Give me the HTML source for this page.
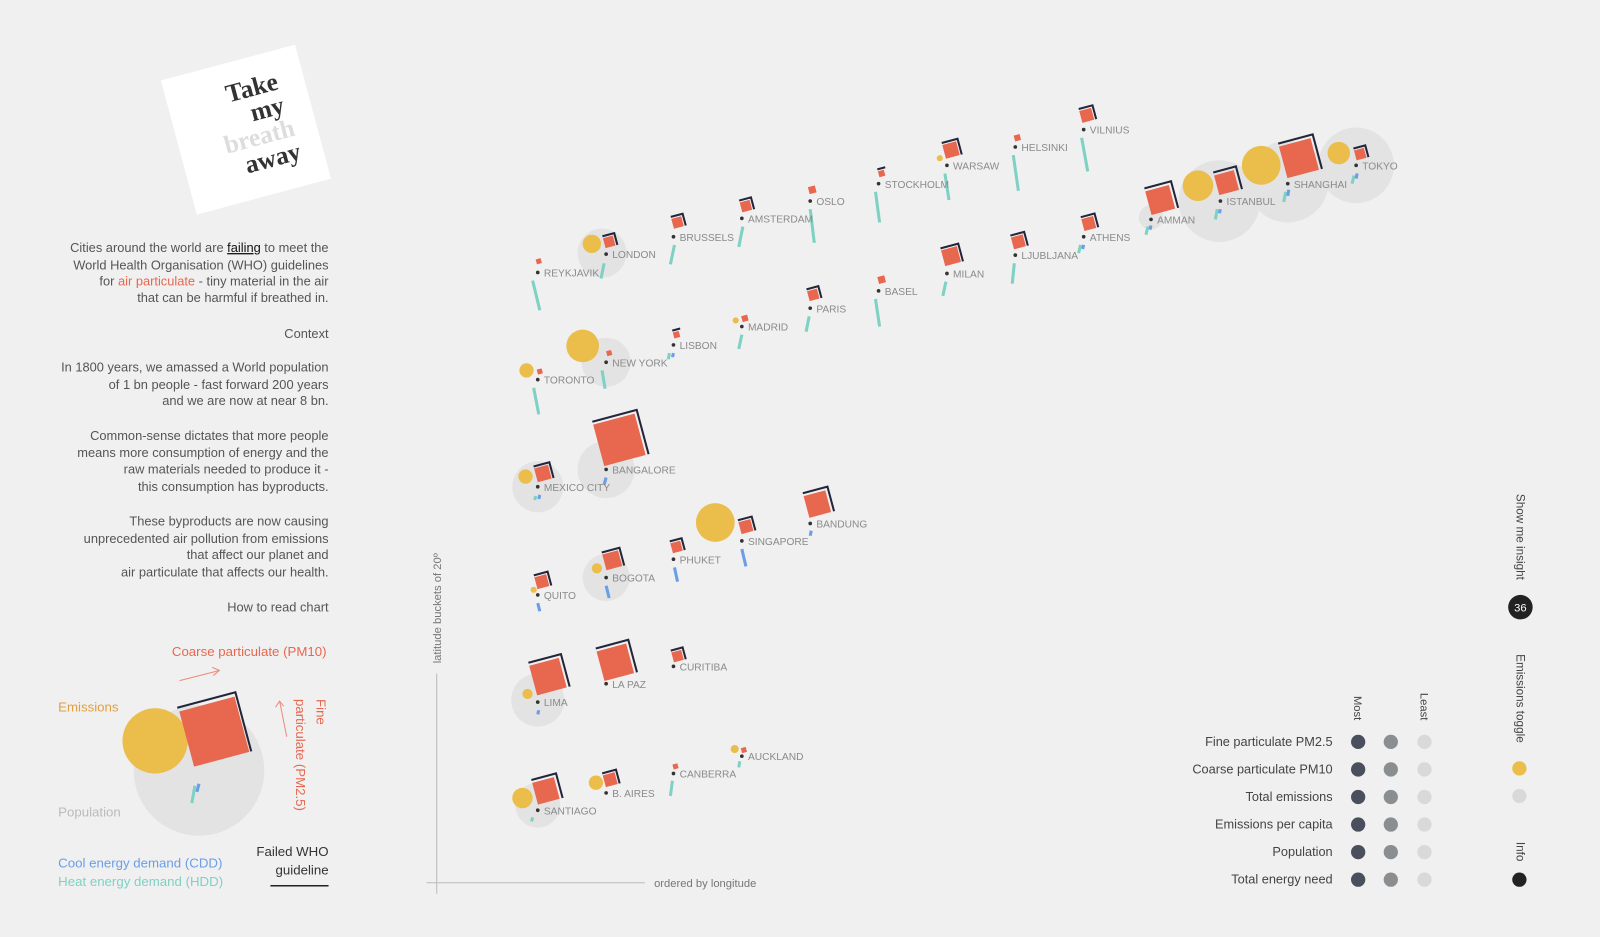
<!DOCTYPE html>
<html><head><meta charset="utf-8"><style>
html,body{margin:0;padding:0;background:#f0f0f0;}
svg{display:block;font-family:"Liberation Sans",sans-serif;}
.lb{font-size:10px;fill:#8a8a8a;}
.p{font-size:12.6px;fill:#555;text-anchor:end;}
.sq{fill:#e8674f;}
.fr{fill:none;stroke:#23263a;stroke-width:2;}
.pop{fill:#e3e3e3;}
.em{fill:#ebbd4a;}
.tl{stroke:#7fd1c4;stroke-width:3;}
.bl{stroke:#6a9ee8;stroke-width:3;}
.dt{fill:#333;}
.lg{font-size:12.5px;fill:#444;text-anchor:end;}
</style></head><body>
<svg width="1600" height="937" viewBox="0 0 1568 918.2" preserveAspectRatio="none">
<rect width="1568" height="919" fill="#f0f0f0"/>
<!-- title card -->
<g transform="translate(241,127) rotate(-15)">
<rect x="-68" y="-68" width="136" height="136" fill="#fff"/>
<g font-family="Liberation Serif,serif" font-weight="bold" font-size="25" text-anchor="end">
<text x="42" y="-30" fill="#333">Take</text>
<text x="42" y="-6" fill="#333">my</text>
<text x="46" y="18" fill="#ddd">breath</text>
<text x="46" y="42" fill="#333">away</text>
</g></g>
<!-- intro text -->
<text class="p" x="322" y="247">Cities around the world are <tspan fill="#111" text-decoration="underline">failing</tspan> to meet the</text>
<text class="p" x="322" y="264">World Health Organisation (WHO) guidelines</text>
<text class="p" x="322" y="280">for <tspan fill="#e8674f">air particulate</tspan> - tiny material in the air</text>
<text class="p" x="322" y="296">that can be harmful if breathed in.</text>
<text class="p" x="322" y="331" fill="#222">Context</text>
<text class="p" x="322" y="364">In 1800 years, we amassed a World population</text>
<text class="p" x="322" y="381">of 1 bn people - fast forward 200 years</text>
<text class="p" x="322" y="397">and we are now at near 8 bn.</text>
<text class="p" x="322" y="431">Common-sense dictates that more people</text>
<text class="p" x="322" y="448">means more consumption of energy and the</text>
<text class="p" x="322" y="464">raw materials needed to produce it -</text>
<text class="p" x="322" y="481">this consumption has byproducts.</text>
<text class="p" x="322" y="515">These byproducts are now causing</text>
<text class="p" x="322" y="532">unprecedented air pollution from emissions</text>
<text class="p" x="322" y="548">that affect our planet and</text>
<text class="p" x="322" y="565">air particulate that affects our health.</text>
<text class="p" x="322" y="599" fill="#222">How to read chart</text>
<!-- how to read legend -->
<text x="320" y="643" font-size="13" fill="#e8674f" text-anchor="end">Coarse particulate (PM10)</text>
<path d="M176 667 L215 657 M208 654 L215 657 L209 662" stroke="#ee8a7a" fill="none" stroke-width="1"/>
<text x="57" y="697" font-size="13" fill="#e0a040">Emissions</text>
<circle class="pop" cx="195" cy="755" r="64"/>
<circle class="em" cx="152" cy="726" r="32"/>
<g transform="translate(210,717) rotate(-15)"><rect class="sq" x="-28" y="-28" width="56" height="56"/><path class="fr" d="M-29 -32 H30 V28"/></g>
<line class="tl" x1="191" y1="770" x2="188" y2="787"/><line class="bl" x1="195" y1="768" x2="193" y2="776"/>
<text x="57" y="800" font-size="13" fill="#bbb">Population</text>
<path d="M281 722 L274 687 M270 693 L274 687 L278 692" stroke="#ee8a7a" fill="none" stroke-width="1"/>
<text transform="translate(290,685) rotate(90)" font-size="13" fill="#e8674f">particulate (PM2.5)</text>
<text transform="translate(310,685) rotate(90)" font-size="13" fill="#e8674f">Fine</text>
<text x="57" y="850" font-size="13" fill="#6a9ee8">Cool energy demand (CDD)</text>
<text x="57" y="868" font-size="13" fill="#7fd1c4">Heat energy demand (HDD)</text>
<text x="322" y="839" font-size="13" fill="#333" text-anchor="end">Failed WHO</text>
<text x="322" y="857" font-size="13" fill="#333" text-anchor="end">guideline</text>
<line x1="265" y1="868" x2="322" y2="868" stroke="#222" stroke-width="1.5"/>
<!-- axes -->
<line x1="428" y1="660" x2="428" y2="876" stroke="#bbb"/>
<line x1="418" y1="865" x2="632" y2="865" stroke="#bbb"/>
<text transform="translate(432,650) rotate(-90)" font-size="11" fill="#777">latitude buckets of 20º</text>
<text x="641" y="869" font-size="11" fill="#777">ordered by longitude</text>
<!-- pop circles -->
<circle class="pop" cx="590" cy="248" r="24"/>
<circle class="pop" cx="1128" cy="213" r="12"/>
<circle class="pop" cx="1195" cy="197" r="40"/>
<circle class="pop" cx="1262" cy="178" r="40"/>
<circle class="pop" cx="1329" cy="162" r="37"/>
<circle class="pop" cx="594" cy="355" r="24"/>
<circle class="pop" cx="527" cy="477" r="25"/>
<circle class="pop" cx="594" cy="460" r="28"/>
<circle class="pop" cx="594" cy="566" r="23"/>
<circle class="pop" cx="527" cy="686" r="26"/>
<circle class="pop" cx="527" cy="789" r="22"/>
<!-- emissions -->
<circle class="em" cx="580" cy="239" r="9"/>
<circle class="em" cx="921" cy="155" r="3"/>
<circle class="em" cx="1174" cy="182" r="15"/>
<circle class="em" cx="1236" cy="162" r="19"/>
<circle class="em" cx="1312" cy="150" r="11"/>
<circle class="em" cx="516" cy="363" r="7"/>
<circle class="em" cx="571" cy="339" r="16"/>
<circle class="em" cx="721" cy="314" r="3"/>
<circle class="em" cx="515" cy="467" r="7"/>
<circle class="em" cx="523" cy="578" r="3"/>
<circle class="em" cx="585" cy="557" r="5"/>
<circle class="em" cx="701" cy="512" r="19"/>
<circle class="em" cx="517" cy="680" r="5"/>
<circle class="em" cx="512" cy="782" r="10"/>
<circle class="em" cx="584" cy="767" r="7"/>
<circle class="em" cx="720" cy="734" r="4"/>
<!-- squares -->
<g transform="translate(528,256) rotate(-15)"><rect class="sq" x="-2.5" y="-2.5" width="5" height="5"/></g>
<g transform="translate(597,237) rotate(-15)"><rect class="sq" x="-5" y="-5" width="10" height="10"/><path class="fr" d="M-5 -7 H7 V5"/></g>
<g transform="translate(664,218) rotate(-15)"><rect class="sq" x="-5" y="-5" width="10" height="10"/><path class="fr" d="M-5 -7 H7 V5"/></g>
<g transform="translate(731,202) rotate(-15)"><rect class="sq" x="-5" y="-5" width="10" height="10"/><path class="fr" d="M-5 -7 H7 V5"/></g>
<g transform="translate(796,186) rotate(-15)"><rect class="sq" x="-3.5" y="-3.5" width="7" height="7"/></g>
<g transform="translate(864,170) rotate(-15)"><rect class="sq" x="-3" y="-3" width="6" height="6"/><path class="fr" d="M-3 -5 H5"/></g>
<g transform="translate(932,147) rotate(-15)"><rect class="sq" x="-7" y="-7" width="14" height="14"/><path class="fr" d="M-7 -9 H9 V7"/></g>
<g transform="translate(997,135) rotate(-15)"><rect class="sq" x="-3" y="-3" width="6" height="6"/></g>
<g transform="translate(1065,113) rotate(-15)"><rect class="sq" x="-6" y="-6" width="12" height="12"/><path class="fr" d="M-6 -8 H8 V6"/></g>
<g transform="translate(1137,196) rotate(-15)"><rect class="sq" x="-12" y="-12" width="24" height="24"/><path class="fr" d="M-12 -15 H15 V12"/></g>
<g transform="translate(1202,179) rotate(-15)"><rect class="sq" x="-10" y="-10" width="20" height="20"/><path class="fr" d="M-10 -13 H13 V10"/></g>
<g transform="translate(1273,155) rotate(-15)"><rect class="sq" x="-16" y="-16" width="32" height="32"/><path class="fr" d="M-16 -19 H19 V16"/></g>
<g transform="translate(1333,151) rotate(-15)"><rect class="sq" x="-5" y="-5" width="10" height="10"/><path class="fr" d="M-5 -7 H7 V5"/></g>
<g transform="translate(529,364) rotate(-15)"><rect class="sq" x="-2.5" y="-2.5" width="5" height="5"/></g>
<g transform="translate(597,346) rotate(-15)"><rect class="sq" x="-2.5" y="-2.5" width="5" height="5"/></g>
<g transform="translate(663,328) rotate(-15)"><rect class="sq" x="-3" y="-3" width="6" height="6"/><path class="fr" d="M-3 -5 H5"/></g>
<g transform="translate(730,312) rotate(-15)"><rect class="sq" x="-3" y="-3" width="6" height="6"/></g>
<g transform="translate(797,289) rotate(-15)"><rect class="sq" x="-5" y="-5" width="10" height="10"/><path class="fr" d="M-5 -7 H7 V5"/></g>
<g transform="translate(864,274) rotate(-15)"><rect class="sq" x="-3.5" y="-3.5" width="7" height="7"/></g>
<g transform="translate(932,251) rotate(-15)"><rect class="sq" x="-8" y="-8" width="16" height="16"/><path class="fr" d="M-8 -10 H10 V8"/></g>
<g transform="translate(998,237) rotate(-15)"><rect class="sq" x="-6" y="-6" width="12" height="12"/><path class="fr" d="M-6 -8 H8 V6"/></g>
<g transform="translate(1067,219) rotate(-15)"><rect class="sq" x="-6" y="-6" width="12" height="12"/><path class="fr" d="M-6 -8 H8 V6"/></g>
<g transform="translate(532,464) rotate(-15)"><rect class="sq" x="-7" y="-7" width="14" height="14"/><path class="fr" d="M-7 -9 H9 V7"/></g>
<g transform="translate(607,431) rotate(-15)"><rect class="sq" x="-21" y="-21" width="42" height="42"/><path class="fr" d="M-21 -24 H24 V21"/></g>
<g transform="translate(531,570) rotate(-15)"><rect class="sq" x="-6" y="-6" width="12" height="12"/><path class="fr" d="M-6 -8 H8 V6"/></g>
<g transform="translate(600,549) rotate(-15)"><rect class="sq" x="-8" y="-8" width="16" height="16"/><path class="fr" d="M-8 -10 H10 V8"/></g>
<g transform="translate(663,536) rotate(-15)"><rect class="sq" x="-5" y="-5" width="10" height="10"/><path class="fr" d="M-5 -7 H7 V5"/></g>
<g transform="translate(731,516) rotate(-15)"><rect class="sq" x="-6" y="-6" width="12" height="12"/><path class="fr" d="M-6 -8 H8 V6"/></g>
<g transform="translate(801,494) rotate(-15)"><rect class="sq" x="-11" y="-11" width="22" height="22"/><path class="fr" d="M-11 -14 H14 V11"/></g>
<g transform="translate(537,663) rotate(-15)"><rect class="sq" x="-15" y="-15" width="30" height="30"/><path class="fr" d="M-15 -18 H18 V15"/></g>
<g transform="translate(603,649) rotate(-15)"><rect class="sq" x="-15" y="-15" width="30" height="30"/><path class="fr" d="M-15 -18 H18 V15"/></g>
<g transform="translate(664,643) rotate(-15)"><rect class="sq" x="-5" y="-5" width="10" height="10"/><path class="fr" d="M-5 -7 H7 V5"/></g>
<g transform="translate(535,775) rotate(-15)"><rect class="sq" x="-11" y="-11" width="22" height="22"/><path class="fr" d="M-11 -14 H14 V11"/></g>
<g transform="translate(598,764) rotate(-15)"><rect class="sq" x="-6" y="-6" width="12" height="12"/><path class="fr" d="M-6 -8 H8 V6"/></g>
<g transform="translate(662,751) rotate(-15)"><rect class="sq" x="-2.5" y="-2.5" width="5" height="5"/></g>
<g transform="translate(729,735) rotate(-15)"><rect class="sq" x="-2.5" y="-2.5" width="5" height="5"/></g>
<!-- bars -->
<line class="tl" x1="522" y1="275" x2="529" y2="304"/>
<line class="tl" x1="592" y1="258" x2="589" y2="273"/>
<line class="tl" x1="661" y1="240" x2="657" y2="259"/>
<line class="tl" x1="728" y1="222" x2="724" y2="242"/>
<line class="tl" x1="794" y1="205" x2="798" y2="238"/>
<line class="tl" x1="858" y1="188" x2="862" y2="218"/>
<line class="tl" x1="926" y1="170" x2="930" y2="196"/>
<line class="tl" x1="993" y1="152" x2="998" y2="187"/>
<line class="tl" x1="1060" y1="135" x2="1066" y2="168"/>
<line class="tl" x1="1125" y1="222" x2="1123" y2="230"/><line class="bl" x1="1128" y1="221" x2="1127" y2="225"/>
<line class="tl" x1="1193" y1="205" x2="1191" y2="215"/><line class="bl" x1="1196" y1="205" x2="1195" y2="209"/>
<line class="tl" x1="1260" y1="188" x2="1258" y2="198"/><line class="bl" x1="1263" y1="186" x2="1262" y2="192"/>
<line class="tl" x1="1327" y1="172" x2="1325" y2="180"/><line class="bl" x1="1330" y1="170" x2="1329" y2="175"/>
<line class="tl" x1="523" y1="380" x2="528" y2="406"/>
<line class="tl" x1="590" y1="363" x2="593" y2="381"/>
<line class="bl" x1="660" y1="346" x2="659" y2="350"/><line class="tl" x1="656" y1="346" x2="655" y2="352"/>
<line class="tl" x1="727" y1="328" x2="724" y2="342"/>
<line class="tl" x1="793" y1="310" x2="790" y2="325"/>
<line class="tl" x1="858" y1="293" x2="862" y2="320"/>
<line class="tl" x1="927" y1="276" x2="924" y2="290"/>
<line class="tl" x1="994" y1="258" x2="992" y2="278"/>
<line class="tl" x1="1059" y1="240" x2="1057" y2="248"/><line class="bl" x1="1062" y1="240" x2="1061" y2="244"/>
<line class="bl" x1="529" y1="485" x2="528" y2="489"/><line class="tl" x1="525" y1="486" x2="524" y2="490"/>
<line class="bl" x1="594" y1="468" x2="592" y2="475"/>
<line class="bl" x1="527" y1="591" x2="529" y2="599"/>
<line class="bl" x1="594" y1="574" x2="597" y2="586"/>
<line class="bl" x1="661" y1="556" x2="664" y2="570"/>
<line class="bl" x1="727" y1="538" x2="731" y2="555"/>
<line class="bl" x1="795" y1="520" x2="794" y2="525"/>
<line class="bl" x1="528" y1="696" x2="527" y2="700"/>
<line class="tl" x1="522" y1="801" x2="521" y2="805"/>
<line class="tl" x1="659" y1="765" x2="657" y2="780"/>
<line class="tl" x1="725" y1="746" x2="724" y2="752"/>
<!-- dots -->
<g class="dt">
<circle cx="527" cy="267" r="1.8"/><circle cx="594" cy="249" r="1.8"/><circle cx="660" cy="232" r="1.8"/><circle cx="727" cy="214" r="1.8"/><circle cx="794" cy="197" r="1.8"/><circle cx="861" cy="180" r="1.8"/><circle cx="928" cy="162" r="1.8"/><circle cx="995" cy="144" r="1.8"/><circle cx="1062" cy="127" r="1.8"/><circle cx="1128" cy="215" r="1.8"/><circle cx="1196" cy="197" r="1.8"/><circle cx="1262" cy="180" r="1.8"/><circle cx="1329" cy="162" r="1.8"/>
<circle cx="527" cy="372" r="1.8"/><circle cx="594" cy="355" r="1.8"/><circle cx="660" cy="338" r="1.8"/><circle cx="727" cy="320" r="1.8"/><circle cx="794" cy="302" r="1.8"/><circle cx="861" cy="285" r="1.8"/><circle cx="928" cy="268" r="1.8"/><circle cx="995" cy="250" r="1.8"/><circle cx="1062" cy="232" r="1.8"/>
<circle cx="527" cy="477" r="1.8"/><circle cx="594" cy="460" r="1.8"/>
<circle cx="527" cy="583" r="1.8"/><circle cx="594" cy="566" r="1.8"/><circle cx="660" cy="548" r="1.8"/><circle cx="727" cy="530" r="1.8"/><circle cx="794" cy="513" r="1.8"/>
<circle cx="527" cy="688" r="1.8"/><circle cx="594" cy="670" r="1.8"/><circle cx="660" cy="653" r="1.8"/>
<circle cx="527" cy="794" r="1.8"/><circle cx="594" cy="777" r="1.8"/><circle cx="660" cy="758" r="1.8"/><circle cx="727" cy="741" r="1.8"/>
</g>
<!-- labels -->
<g class="lb">
<text x="533" y="271">REYKJAVIK</text><text x="600" y="253">LONDON</text><text x="666" y="236">BRUSSELS</text><text x="733" y="218">AMSTERDAM</text><text x="800" y="201">OSLO</text><text x="867" y="184">STOCKHOLM</text><text x="934" y="166">WARSAW</text><text x="1001" y="148">HELSINKI</text><text x="1068" y="131">VILNIUS</text><text x="1134" y="219">AMMAN</text><text x="1202" y="201">ISTANBUL</text><text x="1268" y="184">SHANGHAI</text><text x="1335" y="166">TOKYO</text>
<text x="533" y="376">TORONTO</text><text x="600" y="359">NEW YORK</text><text x="666" y="342">LISBON</text><text x="733" y="324">MADRID</text><text x="800" y="306">PARIS</text><text x="867" y="289">BASEL</text><text x="934" y="272">MILAN</text><text x="1001" y="254">LJUBLJANA</text><text x="1068" y="236">ATHENS</text>
<text x="533" y="481">MEXICO CITY</text><text x="600" y="464">BANGALORE</text>
<text x="533" y="587">QUITO</text><text x="600" y="570">BOGOTA</text><text x="666" y="552">PHUKET</text><text x="733" y="534">SINGAPORE</text><text x="800" y="517">BANDUNG</text>
<text x="533" y="692">LIMA</text><text x="600" y="674">LA PAZ</text><text x="666" y="657">CURITIBA</text>
<text x="533" y="798">SANTIAGO</text><text x="600" y="781">B. AIRES</text><text x="666" y="762">CANBERRA</text><text x="733" y="745">AUCKLAND</text>
</g>
<!-- right legend -->
<text transform="translate(1327,682) rotate(90)" font-size="11" fill="#444">Most</text>
<text transform="translate(1392,679) rotate(90)" font-size="11" fill="#444">Least</text>
<g>
<text class="lg" x="1306" y="731">Fine particulate PM2.5</text>
<text class="lg" x="1306" y="758">Coarse particulate PM10</text>
<text class="lg" x="1306" y="785">Total emissions</text>
<text class="lg" x="1306" y="812">Emissions per capita</text>
<text class="lg" x="1306" y="839">Population</text>
<text class="lg" x="1306" y="866">Total energy need</text>
</g>
<g fill="#4a4f5e"><circle cx="1331" cy="727" r="7"/><circle cx="1331" cy="754" r="7"/><circle cx="1331" cy="781" r="7"/><circle cx="1331" cy="808" r="7"/><circle cx="1331" cy="835" r="7"/><circle cx="1331" cy="862" r="7"/></g>
<g fill="#8a8e91"><circle cx="1363" cy="727" r="7"/><circle cx="1363" cy="754" r="7"/><circle cx="1363" cy="781" r="7"/><circle cx="1363" cy="808" r="7"/><circle cx="1363" cy="835" r="7"/><circle cx="1363" cy="862" r="7"/></g>
<g fill="#d9d9d9"><circle cx="1396" cy="727" r="7"/><circle cx="1396" cy="754" r="7"/><circle cx="1396" cy="781" r="7"/><circle cx="1396" cy="808" r="7"/><circle cx="1396" cy="835" r="7"/><circle cx="1396" cy="862" r="7"/></g>
<text transform="translate(1486,484) rotate(90)" font-size="11.5" fill="#444">Show me insight</text>
<circle cx="1490" cy="595" r="12" fill="#222"/>
<text x="1490" y="599" font-size="11" fill="#fff" text-anchor="middle">36</text>
<text transform="translate(1486,641) rotate(90)" font-size="11.5" fill="#444">Emissions toggle</text>
<circle cx="1489" cy="753" r="7" fill="#ebbd4a"/>
<circle cx="1489" cy="780" r="7" fill="#d9d9d9"/>
<text transform="translate(1486,825) rotate(90)" font-size="11.5" fill="#444">Info</text>
<circle cx="1489" cy="862" r="7" fill="#222"/>
</svg>
</body></html>
